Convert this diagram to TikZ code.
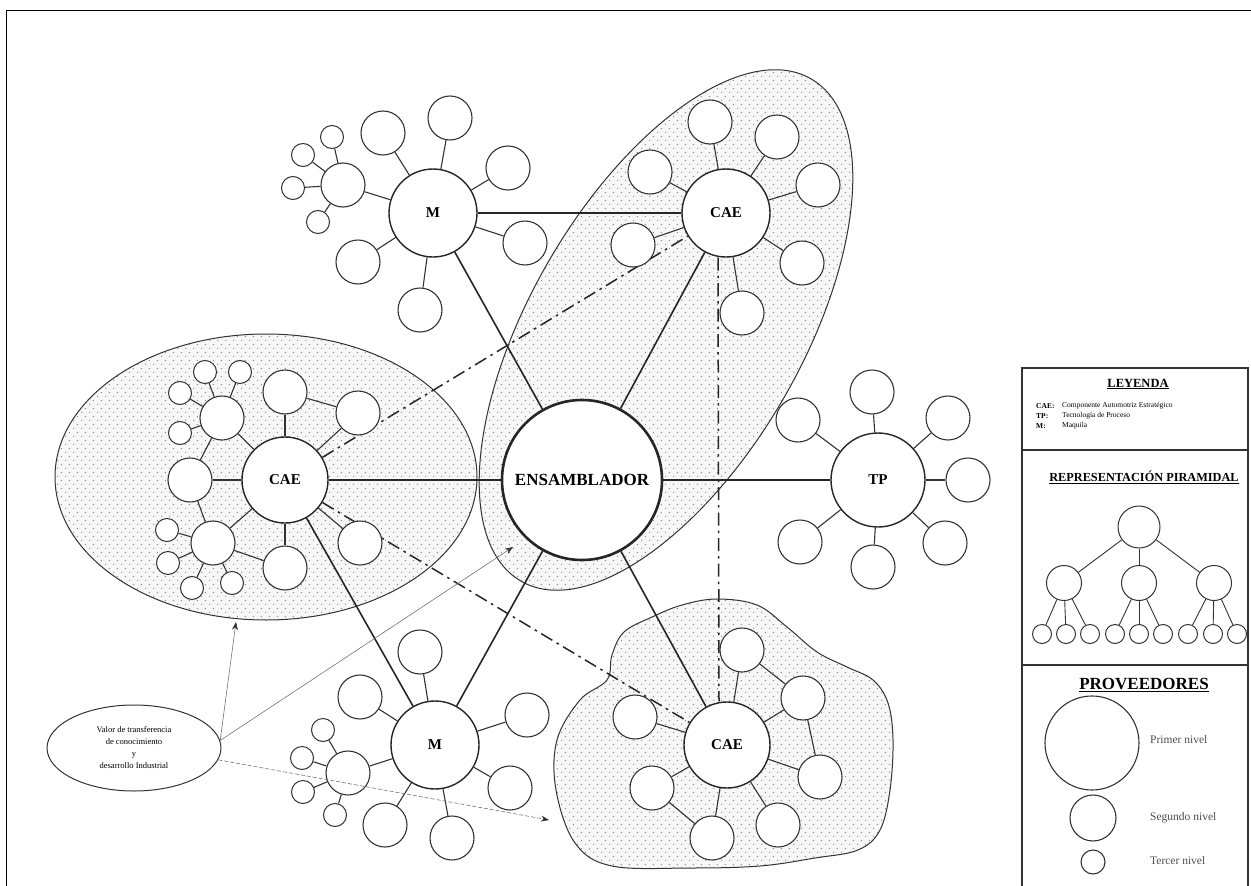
\documentclass[tikz,border=0pt]{standalone}
\usepackage{fontspec}
\setmainfont{Liberation Serif}
\usetikzlibrary{arrows.meta,patterns,shapes.geometric}

% sparse stipple used for the shaded groupings
\pgfdeclarepatternformonly{stipple}{\pgfqpoint{0pt}{0pt}}{\pgfqpoint{8pt}{8pt}}{\pgfqpoint{8pt}{8pt}}{%
  \pgfpathcircle{\pgfqpoint{2pt}{2pt}}{0.7pt}%
  \pgfpathcircle{\pgfqpoint{6pt}{6pt}}{0.7pt}%
  \pgfusepath{fill}}

\pgfdeclarelayer{bg}
\pgfsetlayers{bg,main}

\begin{document}
\begin{tikzpicture}[x=1pt,y=-1pt,
  hub/.style={circle,draw=black!85,line width=1.4pt,fill=white,inner sep=0pt,minimum size=88pt,
              font=\fontsize{15}{17}\selectfont\bfseries},
  sat/.style={circle,draw=black!80,line width=1.1pt,fill=white,inner sep=0pt,minimum size=44pt},
  tiny/.style={circle,draw=black!80,line width=1pt,fill=white,inner sep=0pt,minimum size=23pt},
  region/.style={draw=black!80,line width=1pt,preaction={fill=black!3},pattern=stipple,pattern color=black!50},
  mainlink/.style={draw=black!85,line width=1.6pt},
  link/.style={draw=black!80,line width=1.1pt},
  dashdot/.style={draw=black!85,line width=1.5pt,dash pattern=on 13pt off 5pt on 2.5pt off 5pt},
  thinarrow/.style={draw=black!55,line width=0.6pt,-{Stealth[length=8pt,width=6pt,black!80]}},
  legline/.style={draw=black!80,line width=1.3pt},
  lgkey/.style={anchor=west,inner sep=0pt,font=\fontsize{7.5}{9}\selectfont\bfseries},
  lgtext/.style={anchor=west,inner sep=0pt,font=\fontsize{7.5}{9}\selectfont},
]
\useasboundingbox (0,0) rectangle (1251,886);

% outer frame
\draw[line width=1pt] (6,886) -- (6,10) -- (1251,10);

% ---------------- hubs ----------------
\node[hub,minimum size=160pt,line width=2.6pt,font=\fontsize{17}{19}\selectfont\bfseries] (ens) at (582,480) {ENSAMBLADOR};
\node[hub] (mt) at (433,213) {M};
\node[hub] (ct) at (726,213) {CAE};
\node[hub,minimum size=86pt] (cl) at (285,480) {CAE};
\node[hub,minimum size=94pt] (tp) at (878,480) {TP};
\node[hub] (mb) at (435,745) {M};
\node[hub,minimum size=86pt] (cb) at (727,745) {CAE};

% ---------------- M (upper) cluster ----------------
\node[sat] (mt1) at (450,118) {};
\node[sat] (mt2) at (383,133) {};
\node[sat] (mt3) at (508,168) {};
\node[sat] (mt4) at (525,243) {};
\node[sat] (mt5) at (420,310) {};
\node[sat] (mt6) at (358,262) {};
\node[sat] (mts) at (343,185) {};
\node[tiny] (mtsa) at (332,137) {};
\node[tiny] (mtsb) at (303,155) {};
\node[tiny] (mtsc) at (293,188) {};
\node[tiny] (mtsd) at (318,222) {};

% ---------------- CAE (upper right) cluster ----------------
\node[sat] (ct1) at (710,122) {};
\node[sat] (ct2) at (777,137) {};
\node[sat] (ct3) at (818,185) {};
\node[sat] (ct4) at (802,263) {};
\node[sat] (ct5) at (742,313) {};
\node[sat] (ct6) at (633,245) {};
\node[sat] (ct7) at (650,172) {};

% ---------------- CAE (left) cluster ----------------
\node[sat] (cl1) at (285,392) {};
\node[sat] (cl2) at (358,413) {};
\node[sat] (cl3) at (360,543) {};
\node[sat] (cl4) at (285,568) {};
\node[sat] (cl5) at (190,480) {};
\node[sat] (cls1) at (222,418) {};
\node[sat] (cls2) at (213,543) {};
\node[tiny] (cls1a) at (205,372) {};
\node[tiny] (cls1b) at (240,372) {};
\node[tiny] (cls1c) at (180,393) {};
\node[tiny] (cls1d) at (180,433) {};
\node[tiny] (cls2a) at (167,530) {};
\node[tiny] (cls2b) at (168,563) {};
\node[tiny] (cls2c) at (192,588) {};
\node[tiny] (cls2d) at (232,583) {};

% ---------------- TP cluster ----------------
\node[sat] (tp1) at (872,392) {};
\node[sat] (tp2) at (948,418) {};
\node[sat] (tp3) at (968,480) {};
\node[sat] (tp4) at (945,543) {};
\node[sat] (tp5) at (873,567) {};
\node[sat] (tp6) at (800,542) {};
\node[sat] (tp7) at (798,420) {};

% ---------------- M (lower) cluster ----------------
\node[sat] (mb1) at (420,652) {};
\node[sat] (mb2) at (360,697) {};
\node[sat] (mb3) at (527,715) {};
\node[sat] (mb4) at (510,788) {};
\node[sat] (mb5) at (452,838) {};
\node[sat] (mb6) at (385,825) {};
\node[sat] (mbs) at (348,773) {};
\node[tiny] (mbsa) at (323,730) {};
\node[tiny] (mbsb) at (302,758) {};
\node[tiny] (mbsc) at (303,792) {};
\node[tiny] (mbsd) at (335,815) {};

% ---------------- CAE (lower) cluster ----------------
\node[sat] (cb1) at (742,650) {};
\node[sat] (cb2) at (803,698) {};
\node[sat] (cb3) at (820,777) {};
\node[sat] (cb4) at (778,825) {};
\node[sat] (cb5) at (712,838) {};
\node[sat] (cb6) at (652,788) {};
\node[sat] (cb7) at (635,717) {};

% ---------------- knowledge-transfer oval ----------------
\node[ellipse,draw=black!80,line width=1pt,fill=white,minimum width=174pt,minimum height=86pt,inner sep=0pt,
      align=center,font=\fontsize{8.5}{12}\selectfont] (oval) at (134,748)
  {Valor de transferencia\\de conocimiento\\y\\desarrollo Industrial};

\begin{pgfonlayer}{bg}
  % shaded groupings
  \draw[region] (266,477) ellipse [x radius=211, y radius=143];
  \draw[region,shift={(666,330)},rotate=60] (0,0) ellipse [x radius=290, y radius=136];
  \draw[region] plot[smooth cycle,tension=0.6] coordinates {
    (612,866) (575,843) (556,790) (557,740) (580,700) (607,680) (612,655) (624,632)
    (652,617) (682,605) (717,599) (757,605) (787,627) (817,652) (847,667) (873,680)
    (888,703) (893,740) (890,790) (880,830) (858,850) (815,858) (760,866) (690,868)};

  % first-level links
  \draw[mainlink] (ens) -- (cl);
  \draw[mainlink] (ens) -- (tp);
  \draw[mainlink] (ens) -- (mt);
  \draw[mainlink] (ens) -- (ct);
  \draw[mainlink] (ens) -- (mb);
  \draw[mainlink] (ens) -- (cb);
  \draw[mainlink] (mt) -- (ct);
  \draw[mainlink] (cl) -- (mb);

  % knowledge flows between CAE
  \draw[dashdot] (cl) -- (ct);
  \draw[dashdot] (cl) -- (cb);
  \draw[dashdot] ([xshift=-8pt]ct.south) -- ([xshift=-8pt]cb.north);

  % second and third level links
  \foreach \s in {mt1,mt2,mt3,mt4,mt5,mt6,mts} \draw[link] (mt) -- (\s);
  \foreach \s in {mtsa,mtsb,mtsc,mtsd} \draw[link] (mts) -- (\s);
  \foreach \s in {ct1,ct2,ct3,ct4,ct5,ct6,ct7} \draw[link] (ct) -- (\s);
  \foreach \s in {cl1,cl2,cl3,cl4,cl5,cls1,cls2} \draw[link] (cl) -- (\s);
  \foreach \s in {cls1a,cls1b,cls1c,cls1d} \draw[link] (cls1) -- (\s);
  \foreach \s in {cls2a,cls2b,cls2c,cls2d} \draw[link] (cls2) -- (\s);
  \draw[link] (cl1) -- (cl2);
  \draw[link] (cls1) -- (cl5);
  \draw[link] (cl5) -- (cls2);
  \draw[link] (cls2) -- (cl4);
  \foreach \s in {tp1,tp2,tp3,tp4,tp5,tp6,tp7} \draw[link] (tp) -- (\s);
  \foreach \s in {mb1,mb2,mb3,mb4,mb5,mb6,mbs} \draw[link] (mb) -- (\s);
  \foreach \s in {mbsa,mbsb,mbsc,mbsd} \draw[link] (mbs) -- (\s);
  \foreach \s in {cb1,cb2,cb3,cb4,cb5,cb6,cb7} \draw[link] (cb) -- (\s);
  \draw[link] (cb1) -- (cb2);
  \draw[link] (cb2) -- (cb3);
  \draw[link] (cb6) -- (cb5);
\end{pgfonlayer}

% arrows out of the oval
\coordinate (tipA) at (236,622);
\coordinate (tipB) at (513,547);
\coordinate (tipC) at (549,820);
\draw[thinarrow] (oval.5) -- (tipA);
\draw[thinarrow] (oval.5) -- (tipB);
\draw[thinarrow,dash pattern=on 4pt off 2pt] (oval.-8) -- (tipC);

% ---------------- legend ----------------
\draw[legline] (1022,886) -- (1022,368) -- (1248,368) -- (1248,886);
\draw[legline] (1022,450) -- (1248,450);
\draw[legline] (1022,665) -- (1248,665);

\node[font=\fontsize{12.5}{14}\selectfont\bfseries] (lgtitle) at (1138,384) {\underline{LEYENDA}};
\node[lgkey] (lgk1) at (1036,406) {CAE:};
\node[lgtext] (lgv1) at (1062,406) {Componente Automotriz Estratégico};
\node[lgkey] (lgk2) at (1036,416) {TP:};
\node[lgtext] (lgv2) at (1062,416) {Tecnología de Proceso};
\node[lgkey] (lgk3) at (1036,426) {M:};
\node[lgtext] (lgv3) at (1062,426) {Maquila};

\node[font=\fontsize{12.3}{14}\selectfont\bfseries] (pytitle) at (1144,477) {\underline{REPRESENTACIÓN PIRAMIDAL}};
\node[circle,draw=black!80,line width=1pt,inner sep=0pt,minimum size=42pt] (py0) at (1139,527) {};
\node[circle,draw=black!80,line width=1pt,inner sep=0pt,minimum size=35pt] (py1) at (1064,583) {};
\node[circle,draw=black!80,line width=1pt,inner sep=0pt,minimum size=35pt] (py2) at (1139,583) {};
\node[circle,draw=black!80,line width=1pt,inner sep=0pt,minimum size=35pt] (py3) at (1214,583) {};
\foreach \i/\x in {1/1042,2/1066,3/1090,4/1115,5/1139,6/1163,7/1188,8/1213,9/1237}
  \node[circle,draw=black!80,line width=1pt,inner sep=0pt,minimum size=19pt] (pyb\i) at (\x,634) {};
\foreach \p in {py1,py2,py3} \draw[link,line width=0.9pt] (py0) -- (\p);
\foreach \b in {1,2,3} \draw[link,line width=0.9pt] (py1) -- (pyb\b);
\foreach \b in {4,5,6} \draw[link,line width=0.9pt] (py2) -- (pyb\b);
\foreach \b in {7,8,9} \draw[link,line width=0.9pt] (py3) -- (pyb\b);

\node[font=\fontsize{17}{19}\selectfont\bfseries] (prtitle) at (1144,685) {\underline{PROVEEDORES}};
\node[circle,draw=black!80,line width=1.1pt,inner sep=0pt,minimum size=94pt] (pr1) at (1092,743) {};
\node[circle,draw=black!80,line width=1.1pt,inner sep=0pt,minimum size=46pt] (pr2) at (1093,818) {};
\node[circle,draw=black!80,line width=1.1pt,inner sep=0pt,minimum size=24pt] (pr3) at (1093,862) {};
\node[anchor=west,inner sep=0pt,text=black!70,font=\fontsize{11.5}{13}\selectfont] (pr1t) at (1150,740) {Primer nivel};
\node[anchor=west,inner sep=0pt,text=black!70,font=\fontsize{11.5}{13}\selectfont] (pr2t) at (1150,818) {Segundo nivel};
\node[anchor=west,inner sep=0pt,text=black!70,font=\fontsize{11.5}{13}\selectfont] (pr3t) at (1150,861) {Tercer nivel};
\end{tikzpicture}
\end{document}
